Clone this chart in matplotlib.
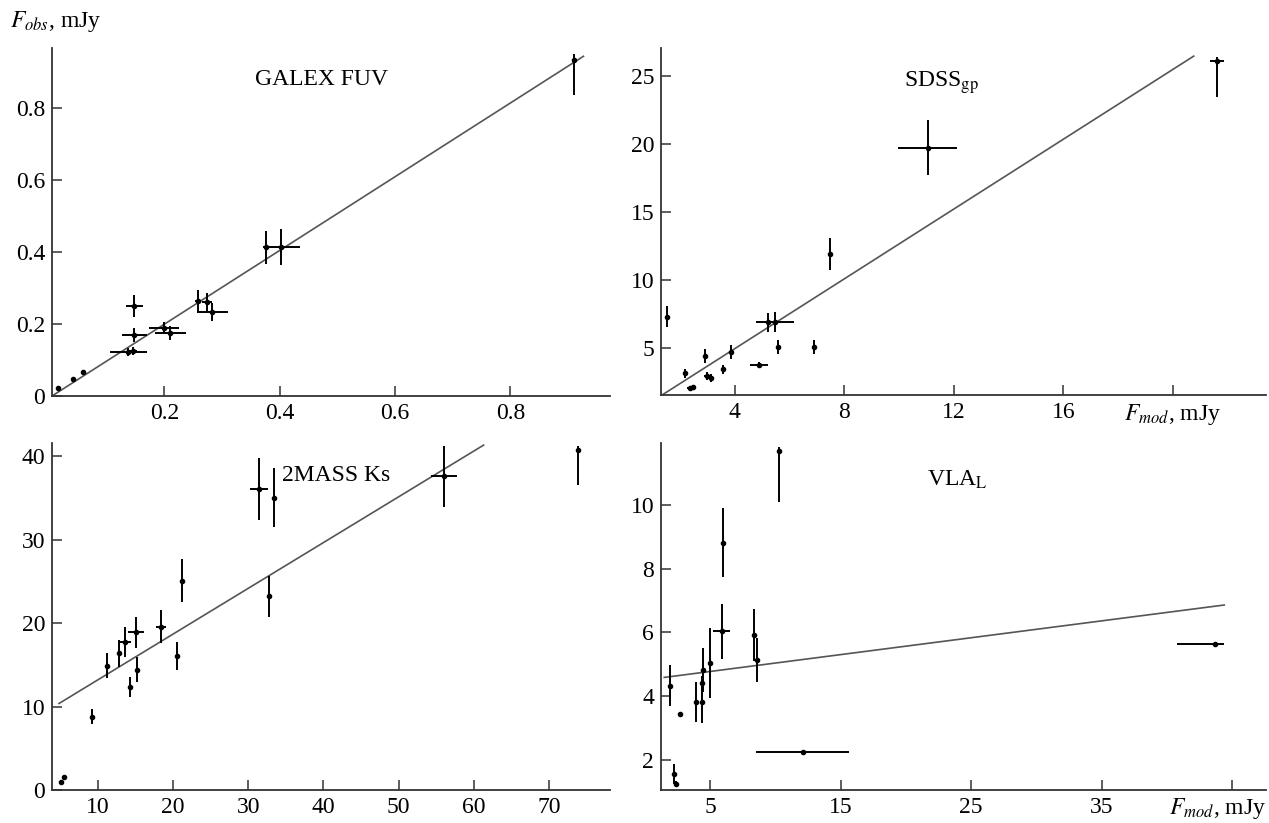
import numpy as np
import matplotlib
matplotlib.use('Agg')
import matplotlib.pyplot as plt

plt.rcParams['font.family'] = ['Liberation Serif', 'DejaVu Serif']
plt.rcParams['mathtext.fontset'] = 'stix'

# GALEX FUV panel (x = F_mod, y = F_obs, mJy); a tuple in an error list is (lower, upper)
galex_x = [0.016, 0.042, 0.058, 0.137, 0.145, 0.148, 0.148, 0.199, 0.210, 0.258, 0.274, 0.283, 0.377, 0.403, 0.911]
galex_y = [0.022, 0.046, 0.066, 0.122, 0.125, 0.169, 0.251, 0.190, 0.176, 0.265, 0.262, 0.235, 0.414, 0.414, 0.935]
galex_xerr = [0, 0, 0, 0.032, 0.008, 0.022, 0.015, 0.026, 0.027, 0.005, 0.008, 0.027, 0.005, 0.032, 0]
galex_yerr = [0, 0, 0, 0.012, 0.012, 0.02, 0.03, 0.015, 0.02, 0.03, 0.025, 0.025, 0.046, 0.05, (0.097, 0.015)]
galex_fit_x = [0.005, 0.927]
galex_fit_y = [0.0, 0.945]

# SDSS gp panel
sdss_x = [1.53, 2.2, 2.36, 2.47, 2.91, 2.99, 3.14, 3.58, 3.88, 4.89, 5.2, 5.47, 5.59, 6.9, 7.48, 11.05, 21.6]
sdss_y = [7.29, 3.1, 2.0, 2.12, 4.38, 2.93, 2.74, 3.4, 4.7, 3.72, 6.88, 6.88, 5.07, 5.07, 11.9, 19.76, 26.16]
sdss_xerr = [0, 0.1, 0.1, 0.1, 0, 0.1, 0.1, 0, 0, 0.33, 0, 0.68, 0, 0, 0, 1.08, 0.25]
sdss_yerr = [0.8, 0.3, 0.15, 0.15, 0.5, 0.3, 0.3, 0.35, 0.5, 0.2, 0.7, 0.75, 0.5, 0.5, 1.2, 2.0, (2.7, 0.3)]
sdss_fit_x = [1.35, 20.76]
sdss_fit_y = [1.51, 26.5]

# 2MASS Ks panel
tmass_x = [5.1, 5.55, 9.2, 11.25, 12.85, 13.6, 15.1, 14.35, 15.25, 18.4, 20.6, 21.2, 31.5, 33.4, 32.8, 56.0, 73.9]
tmass_y = [1.0, 1.5, 8.8, 14.9, 16.4, 17.8, 18.9, 12.3, 14.4, 19.6, 16.1, 25.1, 36.05, 35.05, 23.2, 37.6, 40.8]
tmass_xerr = [0, 0, 0, 0.3, 0, 0.8, 1.1, 0, 0, 0.7, 0, 0, 1.2, 0, 0, 1.7, 0]
tmass_yerr = [0.2, 0.2, 0.9, 1.5, 1.6, 1.8, 1.9, 1.2, 1.5, 2.0, 1.7, 2.6, 3.7, 3.5, 2.4, 3.7, (4.2, 0.4)]
tmass_fit_x = [4.85, 61.3]
tmass_fit_y = [10.37, 41.35]

# VLA L panel
vla_x = [1.94, 2.19, 2.34, 2.66, 3.91, 4.34, 4.44, 4.4, 4.97, 5.88, 5.97, 8.34, 8.56, 10.3, 12.1, 43.7]
vla_y = [4.33, 1.56, 1.25, 3.44, 3.83, 3.83, 4.82, 4.4, 5.03, 6.03, 8.82, 5.92, 5.14, 11.7, 2.24, 5.63]
vla_xerr = [0, 0, 0, 0, 0, 0, 0, 0, 0, 0.65, 0, 0, 0, 0, 3.56, (2.9, 0.7)]
vla_yerr = [0.65, 0.3, 0.1, 0, 0.63, 0.68, 0.7, 0.25, 1.1, 0.87, 1.07, 0.8, 0.7, (1.6, 0.1), 0, 0]
vla_fit_x = [1.47, 44.4]
vla_fit_y = [4.59, 6.86]


def split_err(err):
    lo = [e[0] if isinstance(e, tuple) else e for e in err]
    hi = [e[1] if isinstance(e, tuple) else e for e in err]
    return np.array([lo, hi])


def draw_panel(ax, x, y, xerr, yerr, fit_x, fit_y, title, tx, ty):
    ax.plot(fit_x, fit_y, color='#555555', lw=1.2, zorder=1)
    ax.errorbar(x, y, xerr=split_err(xerr), yerr=split_err(yerr), fmt='o',
                color='black', ms=3, elinewidth=1.4, capsize=0, zorder=2)
    ax.text(tx, ty, title, transform=ax.transAxes, ha='center', va='center', fontsize=17)
    for side in ('top', 'right'):
        ax.spines[side].set_visible(False)
    for side in ('left', 'bottom'):
        ax.spines[side].set_color('#333333')
        ax.spines[side].set_linewidth(1.3)
    ax.tick_params(direction='in', length=7, width=1.1, color='#333333',
                   labelsize=17, pad=5)


fig = plt.figure(figsize=(12.69, 8.23), dpi=100)
W, H = 1269.0, 823.0


def add_axes(left, right, top, bottom):
    return fig.add_axes([left / W, 1 - bottom / H, (right - left) / W, (bottom - top) / H])


ax1 = add_axes(52, 610, 48, 396)
ax2 = add_axes(661, 1266, 48, 395)
ax3 = add_axes(52, 610, 443, 790)
ax4 = add_axes(661, 1266, 443, 790)

# GALEX FUV
draw_panel(ax1, galex_x, galex_y, galex_xerr, galex_yerr, galex_fit_x, galex_fit_y,
           'GALEX FUV', 0.483, 0.909)
ax1.set_xlim(0.005, 0.973)
ax1.set_ylim(0, 0.968)
ax1.set_xticks([0.2, 0.4, 0.6, 0.8])
ax1.set_xticklabels(['0.2', '0.4', '0.6', '0.8'])
ax1.set_yticks([0, 0.2, 0.4, 0.6, 0.8])
ax1.set_yticklabels(['0', '0.2', '0.4', '0.6', '0.8'])

# SDSS gp
draw_panel(ax2, sdss_x, sdss_y, sdss_xerr, sdss_yerr, sdss_fit_x, sdss_fit_y,
           r'SDSS$_{\mathrm{gp}}$', 0.463, 0.90)
ax2.set_xlim(1.31, 23.4)
ax2.set_ylim(1.51, 27.1)
ax2.set_xticks([4, 8, 12, 16, 20])
ax2.set_xticklabels(['4', '8', '12', '16', r'$F_{mod}$, mJy'])
ax2.set_yticks([5, 10, 15, 20, 25])

# 2MASS Ks
draw_panel(ax3, tmass_x, tmass_y, tmass_xerr, tmass_yerr, tmass_fit_x, tmass_fit_y,
           '2MASS Ks', 0.51, 0.907)
ax3.set_xlim(3.92, 78.1)
ax3.set_ylim(0, 41.6)
ax3.set_xticks([10, 20, 30, 40, 50, 60, 70])
ax3.set_yticks([0, 10, 20, 30, 40])

# VLA L
draw_panel(ax4, vla_x, vla_y, vla_xerr, vla_yerr, vla_fit_x, vla_fit_y,
           r'VLA$_{\mathrm{L}}$', 0.49, 0.895)
ax4.set_xlim(1.22, 47.6)
ax4.set_ylim(1.06, 11.94)
ax4.set_xticks([5, 15, 25, 35, 45])
ax4.set_xticklabels(['5', '15', '25', '35', ''])
ax4.set_yticks([2, 4, 6, 8, 10])
ax4.text(1.0, -0.018, r'$F_{mod}$, mJy', transform=ax4.transAxes,
         ha='right', va='top', fontsize=17)

fig.text(10 / W, 1 - 22 / H, r'$F_{obs}$, mJy', ha='left', va='center', fontsize=17)

fig.savefig('out.png', dpi=100)
